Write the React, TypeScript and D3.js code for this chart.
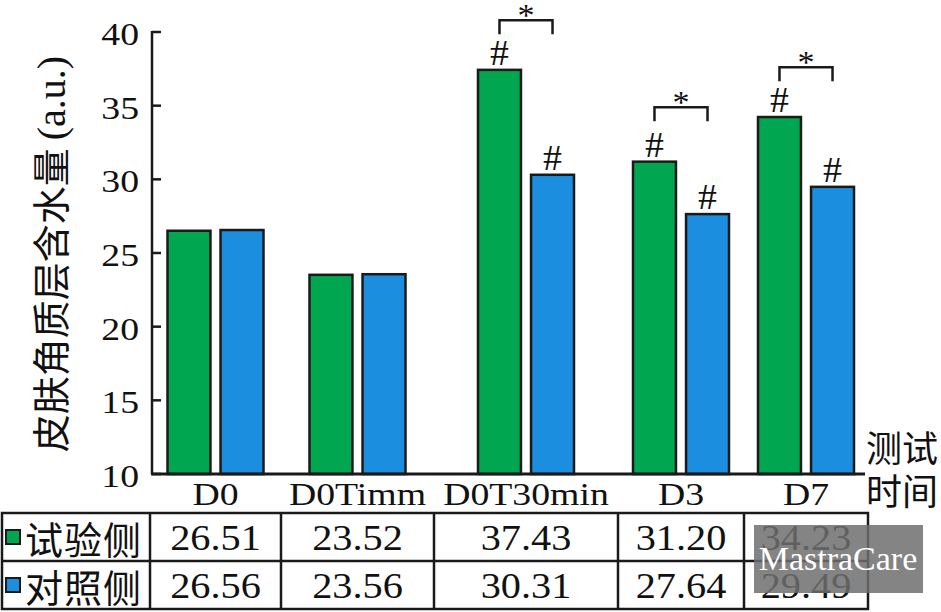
import React from 'react'
import * as d3 from 'd3'

// data
const categories = ['D0', 'D0Timm', 'D0T30min', 'D3', 'D7']
const seriesNames = ['试验侧', '对照侧']
const expValues = [26.51, 23.52, 37.43, 31.2, 34.23]
const ctlValues = [26.56, 23.56, 30.31, 27.64, 29.49]
const expHash = [false, false, true, true, true]
const ctlHash = [false, false, true, true, true]
const sigLevels = [null, null, 40.8, 34.9, 37.6]
const yTicks = [10, 15, 20, 25, 30, 35, 40]

const W = 941
const H = 612
const GREEN = '#00a650'
const BLUE = '#1b8ee0'
const SERIF = '"Liberation Serif", "Times New Roman", serif'
const CJK = '"Noto Sans CJK SC", sans-serif'

// table column edges (legend column + one per category)
const colEdges = [2, 150, 281, 434, 618, 744, 868]
const tableTop = 513
const tableMid = 561
const tableBottom = 609

const axisLeft = 152
const axisRight = 865

const STxt = ({ x, y, sx = 1.18, size = 32, anchor = 'middle', font = SERIF, fill = '#111', children }) => (
  <text
    transform={`translate(${x},${y}) scale(${sx},1)`}
    textAnchor={anchor}
    fontFamily={font}
    fontSize={size}
    fill={fill}
  >
    {children}
  </text>
)

export default function App() {
  const yScale = d3.scaleLinear().domain([10, 40]).range([474, 32])
  const centers = d3.pairs(colEdges.slice(1)).map(([a, b]) => (a + b) / 2)
  const xScale = d3.scaleOrdinal<string, number>().domain(categories).range(centers)
  const inner = d3.scaleBand().domain(['exp', 'ctl']).range([-48, 48]).paddingInner(0.19)
  const fmt = d3.format('.2f')

  const series = [
    { key: 'exp', values: expValues, hash: expHash, color: GREEN },
    { key: 'ctl', values: ctlValues, hash: ctlHash, color: BLUE }
  ]

  return (
    <svg width={W} height={H} style={{ position: 'absolute', left: 0, top: 0, background: '#fff' }}>
      {/* bars */}
      {series.map(s =>
        s.values.map((v, i) => {
          const x = xScale(categories[i]) + inner(s.key)
          return (
            <g key={s.key + i}>
              <rect
                x={x}
                y={yScale(v)}
                width={inner.bandwidth()}
                height={yScale(10) - yScale(v)}
                fill={s.color}
                stroke="#1a1a1a"
                strokeWidth={2.5}
              />
              {s.hash[i] && (
                <STxt x={x + inner.bandwidth() / 2} y={yScale(v) - 5} size={36} sx={1.05}>
                  #
                </STxt>
              )}
            </g>
          )
        })
      )}

      {/* significance brackets */}
      {sigLevels.map((lv, i) => {
        if (lv == null) return null
        const c = xScale(categories[i])
        const x1 = c + inner('exp') + inner.bandwidth() / 2
        const x2 = c + inner('ctl') + inner.bandwidth() / 2
        const y = yScale(lv)
        return (
          <g key={'sig' + i}>
            <path
              d={`M${x1},${y + 14}V${y}H${x2}V${y + 14}`}
              fill="none"
              stroke="#1a1a1a"
              strokeWidth={2.5}
            />
            <STxt x={(x1 + x2) / 2} y={y + 6} size={31} sx={1.1}>
              *
            </STxt>
          </g>
        )
      })}

      {/* axes */}
      <line x1={axisLeft} x2={axisLeft} y1={yScale(40) - 1} y2={yScale(10)} stroke="#1a1a1a" strokeWidth={2.5} />
      <line x1={axisLeft - 1} x2={axisRight} y1={yScale(10)} y2={yScale(10)} stroke="#1a1a1a" strokeWidth={3} />
      {yTicks.map(t => (
        <g key={'t' + t}>
          <line x1={axisLeft} x2={axisLeft + 9} y1={yScale(t)} y2={yScale(t)} stroke="#1a1a1a" strokeWidth={2.5} />
          <STxt x={139} y={yScale(t) + 13} anchor="end" size={32}>
            {t}
          </STxt>
        </g>
      ))}
      {categories.map(c => (
        <STxt key={c} x={xScale(c)} y={505} size={32}>
          {c}
        </STxt>
      ))}

      {/* axis titles */}
      <text
        transform="translate(65,254) rotate(-90)"
        textAnchor="middle"
        fontFamily={CJK}
        fontSize={38}
        fill="#111"
      >
        皮肤角质层含水量
        <tspan fontFamily={SERIF} fontSize={40} dx={8}>(a.u.)</tspan>
      </text>
      <text fontFamily={CJK} fontSize={36} fill="#111">
        <tspan x={866} y={462}>测试</tspan>
        <tspan x={866} y={505}>时间</tspan>
      </text>

      {/* data table */}
      <g stroke="#1a1a1a" strokeWidth={2.5} fill="none">
        <rect x={colEdges[0]} y={tableTop} width={colEdges[colEdges.length - 1] - colEdges[0]} height={tableBottom - tableTop} />
        <line x1={colEdges[0]} x2={colEdges[colEdges.length - 1]} y1={tableMid} y2={tableMid} />
        {colEdges.slice(1, -1).map(e => (
          <line key={'c' + e} x1={e} x2={e} y1={tableTop} y2={tableBottom} />
        ))}
      </g>
      {series.map((s, r) => {
        const rowY = r === 0 ? (tableTop + tableMid) / 2 : (tableMid + tableBottom) / 2
        return (
          <g key={'row' + s.key}>
            <rect x={6} y={rowY - 7} width={14} height={14} fill={s.color} stroke="#1a1a1a" strokeWidth={2} />
            <text
              x={25}
              y={rowY}
              dominantBaseline="central"
              fontFamily={CJK}
              fontSize={38}
              letterSpacing={1}
              fill="#111"
            >
              {seriesNames[r]}
            </text>
            {s.values.map((v, i) => (
              <STxt key={i} x={xScale(categories[i])} y={rowY + 13} size={36} sx={1.12}>
                {fmt(v)}
              </STxt>
            ))}
          </g>
        )
      })}

      {/* watermark logo */}
      <rect x={754} y={525} width={169} height={68} fill="#6e6e6e" opacity={0.85} />
      <text x={838} y={570} textAnchor="middle" fontFamily={SERIF} fontSize={34} fill="#fff">
        MastraCare
      </text>
    </svg>
  )
}
